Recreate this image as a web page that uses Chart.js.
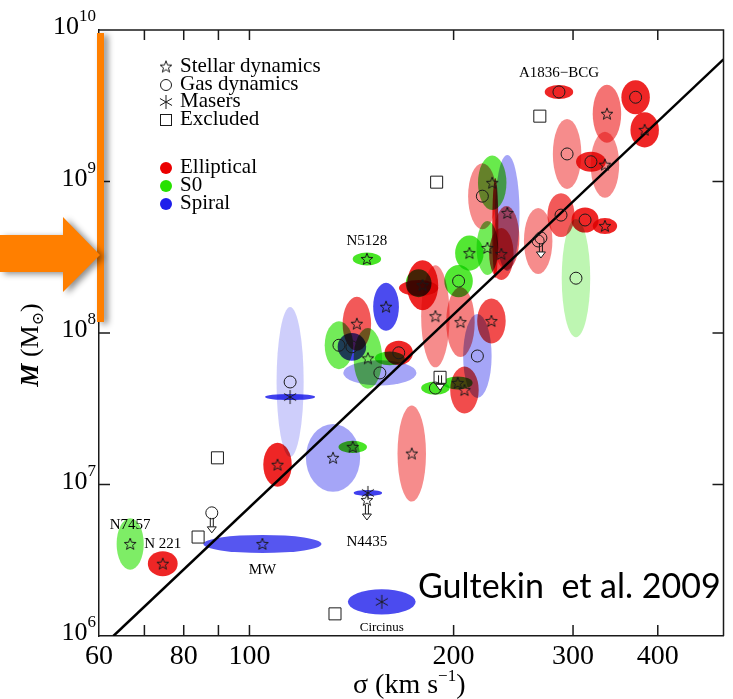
<!DOCTYPE html>
<html>
<head>
<meta charset="utf-8">
<script src="https://cdn.jsdelivr.net/npm/chart.js@4.4.1/dist/chart.umd.min.js"></script>
<style>
  html, body { margin: 0; padding: 0; background: #fff; }
  #wrap { position: relative; width: 733px; height: 699px; }
</style>
</head>
<body>
<div id="wrap"><canvas id="msigma"></canvas></div>
<script>
// Galaxies: velocity dispersion (km/s), black hole mass (Msun),
// half-widths of the error ellipse in dex, host type and measurement method
const galSigma = [
  74.5, 110, 173.5, 144, 166, 180, 177.6, 188, 204.7, 227.4, 207.5, 220.5, 239.3,
  235.2, 230.4, 266.5, 288, 312.5, 334.3, 286, 371, 336.6, 382.6, 294, 318.8, 334.3,
  66.7, 142, 149, 135.5, 149.5, 161, 177.6, 203.4, 202.8, 188, 228, 211, 224.3, 303,
  104.5, 132.8, 149.5, 156.7, 114.8, 114.8, 159, 141.6, 155.7, 216.8, 240
];
const galMass = [
  3.0e6, 1.35e7, 1.6e7, 1.15e8, 7.4e7, 2.07e8, 1.98e8, 1.29e8, 1.18e8, 1.2e8, 4.2e7, 8.0e8, 4.24e8,
  3.32e8, 4.93e8, 4.05e8, 6.0e8, 5.57e8, 5.08e8, 3.9e9, 3.6e9, 2.8e9, 2.19e9, 1.52e9, 1.35e9, 1.29e9,
  4.05e6, 1.77e7, 3.08e8, 8.3e7, 6.8e7, 6.8e7, 2.13e8, 2.2e8, 4.68e7, 4.33e7, 9.8e8, 3.37e8, 3.64e8, 2.3e8,
  4.05e6, 1.5e7, 8.8e6, 1.68e6, 4.75e7, 3.78e7, 1.49e8, 8.1e7, 5.45e7, 7.05e7, 6.2e8
];
const galSigmaErr = [
  0.022, 0.021, 0.021, 0.021, 0.021, 0.023, 0.029, 0.021, 0.021, 0.021, 0.021, 0.021, 0.019,
  0.018, 0.0045, 0.021, 0.02, 0.02, 0.018, 0.021, 0.021, 0.021, 0.021, 0.021, 0.022, 0.021,
  0.02, 0.021, 0.021, 0.021, 0.021, 0.022, 0.019, 0.021, 0.022, 0.021, 0.021, 0.021, 0.016, 0.021,
  0.087, 0.04, 0.021, 0.05, 0.02, 0.037, 0.019, 0.021, 0.054, 0.021, 0.018
];
const galMassErr = [
  0.083, 0.145, 0.317, 0.178, 0.08, 0.165, 0.053, 0.337, 0.231, 0.149, 0.155, 0.218, 0.211,
  0.172, 0.33, 0.218, 0.145, 0.083, 0.053, 0.046, 0.112, 0.191, 0.116, 0.231, 0.066, 0.218,
  0.17, 0.04, 0.043, 0.158, 0.2, 0.046, 0.092, 0.106, 0.043, 0.043, 0.18, 0.116, 0.178, 0.39,
  0.06, 0.224, 0.02, 0.083, 0.495, 0.02, 0.158, 0.092, 0.083, 0.277, 0.383
];
const galType = [
  'E','E','E','E','E','E','E','E','E','E','E','E','E',
  'E','E','E','E','E','E','E','E','E','E','E','E','E',
  'S0','S0','S0','S0','S0','S0','S0','S0','S0','S0','S0','S0','S0','S0',
  'S','S','S','S','S','S','S','S','S','S','S'
];
const galMethod = [
  'star','star','star','star','gas','star','none','star','star','star','star','gas','none',
  'star','none','gas','gas','gas','star','gas','gas','star','star','gas','gas','star',
  'star','star','star','gas','star','none','none','gas','star','gas','star','star','star','gas',
  'star','star','maser','maser','gas','maser','star','gas','gas','gas','star'
];

// excluded objects and upper limits
const exclSigma = [84, 89.7, 133.7, 188.8, 268];
const exclMass = [4.5e6, 1.5e7, 1.4e6, 9.9e8, 2.7e9];
const limSigma = [88, 149, 191, 269];
const limMass = [6.5e6, 7.9e6, 5.1e7, 4.24e8];
const limMethod = ['gas', 'star', 'excl', 'gas'];

// best fit relation, end points
const fitSigma = [63, 500];
const fitMass = [1.0e6, 6.4e9];

// named galaxies
const nameText = ['N7457', 'N 221', 'MW', 'N4435', 'Circinus', 'N5128', 'A1836\u2212BCG'];
const nameSigma = [66.7, 74.5, 104.5, 149, 156.7, 149, 286];
const nameMass = [4.05e6, 3.0e6, 4.05e6, 7.9e6, 1.68e6, 3.08e8, 3.9e9];

// axes
const sigmaTicks = [60, 70, 80, 90, 100, 200, 300, 400];
const sigmaLabels = [60, 80, 100, 200, 300, 400];
const massTicks = [1e6, 1e7, 1e8, 1e9, 1e10];

// styling
const typeRGB = { E: '235,0,0', S0: '40,225,0', S: '30,30,235' };
const ellipseShade = [
  0.85, 0.85, 0.45, 0.65, 0.85, 0.85, 0.85, 0.45, 0.5, 0.7, 0.7, 0.45, 0.6,
  0.7, 0.85, 0.45, 0.65, 0.85, 0.85, 0.85, 0.85, 0.55, 0.85, 0.45, 0.85, 0.45,
  0.6, 0.85, 0.85, 0.65, 0.65, 0.85, 0.85, 0.8, 0.85, 0.85, 0.7, 0.8, 0.65, 0.3,
  0.75, 0.4, 0.85, 0.8, 0.22, 0.85, 0.8, 0.85, 0.4, 0.4, 0.4
];
const nameShift = [-19, -20, 26, 42, 26, -18, -19];
const SERIF = '"Liberation Serif", "DejaVu Serif", serif';
const INK = '#1a1a1a';

function markerCanvas(draw) {
  const c = document.createElement('canvas');
  c.width = 16; c.height = 16;
  const g = c.getContext('2d');
  g.strokeStyle = INK; g.lineWidth = 1;
  draw(g);
  return c;
}
const starMark = markerCanvas(g => {
  g.beginPath();
  for (let k = 0; k < 10; k++) {
    const r = k % 2 ? 2.6 : 6.2;
    const a = -Math.PI / 2 + k * Math.PI / 5;
    g.lineTo(8 + r * Math.cos(a), 8.4 + r * Math.sin(a));
  }
  g.closePath(); g.stroke();
});
const maserMark = markerCanvas(g => {
  g.beginPath();
  for (let k = 0; k < 3; k++) {
    const a = Math.PI / 2 + k * Math.PI / 3;
    g.moveTo(8 - 7 * Math.cos(a), 8 - 7 * Math.sin(a));
    g.lineTo(8 + 7 * Math.cos(a), 8 + 7 * Math.sin(a));
  }
  g.stroke();
});

function pointsFor(method) {
  const pts = [];
  galSigma.forEach((s, i) => { if (galMethod[i] === method) pts.push({ x: s, y: galMass[i] }); });
  limSigma.forEach((s, i) => { if (limMethod[i] === method) pts.push({ x: s, y: limMass[i] }); });
  return pts;
}

// error ellipses, blended multiplicatively so overlaps darken
const ellipsePlugin = {
  id: 'ellipses',
  beforeDatasetsDraw(chart) {
    const { ctx, chartArea: a, scales: { x, y } } = chart;
    ctx.save();
    ctx.beginPath(); ctx.rect(a.left, a.top, a.width, a.height); ctx.clip();
    ctx.globalCompositeOperation = 'multiply';
    galSigma.forEach((s, i) => {
      const m = galMass[i], ds = Math.pow(10, galSigmaErr[i]), dm = Math.pow(10, galMassErr[i]);
      const cx = x.getPixelForValue(s), cy = y.getPixelForValue(m);
      const rx = (x.getPixelForValue(s * ds) - x.getPixelForValue(s / ds)) / 2;
      const ry = (y.getPixelForValue(m / dm) - y.getPixelForValue(m * dm)) / 2;
      ctx.fillStyle = 'rgba(' + typeRGB[galType[i]] + ',' + ellipseShade[i] + ')';
      ctx.beginPath(); ctx.ellipse(cx, cy, rx, ry, 0, 0, Math.PI * 2); ctx.fill();
    });
    ctx.restore();
  }
};

function drawStarAt(ctx, cx, cy) { ctx.drawImage(starMark, cx - 8, cy - 8.4); }

const decorPlugin = {
  id: 'decor',
  afterDatasetsDraw(chart) {
    const { ctx, scales: { x, y } } = chart;
    ctx.save();
    // upper limit arrows
    ctx.strokeStyle = INK; ctx.lineWidth = 1; ctx.fillStyle = '#fff';
    limSigma.forEach((s, i) => {
      const px = x.getPixelForValue(s), py = y.getPixelForValue(limMass[i]);
      const top = limMethod[i] === 'excl' ? py - 2 : py + 5;
      ctx.beginPath();
      ctx.moveTo(px - 1.5, top); ctx.lineTo(px - 1.5, top + 9);
      ctx.moveTo(px + 1.5, top); ctx.lineTo(px + 1.5, top + 9);
      ctx.stroke();
      ctx.beginPath();
      ctx.moveTo(px - 4.5, top + 9); ctx.lineTo(px + 4.5, top + 9); ctx.lineTo(px, top + 15); ctx.closePath();
      ctx.fill(); ctx.stroke();
    });
    // galaxy names
    ctx.fillStyle = '#000'; ctx.textAlign = 'center'; ctx.textBaseline = 'middle';
    nameText.forEach((t, i) => {
      ctx.font = (t === 'Circinus' ? '13px ' : '15px ') + SERIF;
      ctx.fillText(t, x.getPixelForValue(nameSigma[i]), y.getPixelForValue(nameMass[i]) + nameShift[i]);
    });
    ctx.restore();
  },
  afterDraw(chart) {
    const { ctx, chartArea: a, scales: { x, y } } = chart;
    ctx.save();
    // frame: top and right sides, ticks pointing inwards
    ctx.strokeStyle = INK; ctx.lineWidth = 1.5;
    ctx.beginPath();
    ctx.moveTo(a.left, a.top); ctx.lineTo(a.right, a.top); ctx.lineTo(a.right, a.bottom);
    sigmaTicks.slice(1).forEach(v => {
      const px = x.getPixelForValue(v);
      ctx.moveTo(px, a.bottom); ctx.lineTo(px, a.bottom - 11);
      ctx.moveTo(px, a.top); ctx.lineTo(px, a.top + 10);
    });
    massTicks.slice(1, -1).forEach(v => {
      const py = y.getPixelForValue(v);
      ctx.moveTo(a.left, py); ctx.lineTo(a.left + 11, py);
      ctx.moveTo(a.right, py); ctx.lineTo(a.right - 11, py);
    });
    ctx.stroke();

    // mass tick labels as powers of ten
    ctx.fillStyle = '#000'; ctx.textBaseline = 'alphabetic'; ctx.textAlign = 'left';
    massTicks.forEach(v => {
      const py = y.getPixelForValue(v);
      const exp = String(Math.round(Math.log10(v)));
      ctx.font = '17px ' + SERIF;
      const we = ctx.measureText(exp).width;
      ctx.font = '26px ' + SERIF;
      const wb = ctx.measureText('10').width;
      const right = a.left - 3;
      ctx.fillText('10', right - we - wb, py + 4);
      ctx.font = '17px ' + SERIF;
      ctx.fillText(exp, right - we, py - 9);
    });

    // axis titles
    ctx.font = '28px ' + SERIF;
    let cx = 353;
    const by = 693;
    ctx.fillText('\u03c3 (km s', cx, by); cx += ctx.measureText('\u03c3 (km s').width;
    ctx.font = '17px ' + SERIF;
    ctx.fillText('\u22121', cx, by - 12); cx += ctx.measureText('\u22121').width;
    ctx.font = '28px ' + SERIF;
    ctx.fillText(')', cx, by);

    ctx.save();
    ctx.translate(38, 345); ctx.rotate(-Math.PI / 2);
    const parts = [
      ['bold italic 26px ' + SERIF, 'M', 0],
      ['26px ' + SERIF, ' (M', 0],
      ['16px ' + SERIF, '\u2299', 5],
      ['26px ' + SERIF, ')', 0]
    ];
    let total = 0;
    parts.forEach(p => { ctx.font = p[0]; total += ctx.measureText(p[1]).width; });
    let tx = -total / 2;
    parts.forEach(p => { ctx.font = p[0]; ctx.fillText(p[1], tx, p[2]); tx += ctx.measureText(p[1]).width; });
    ctx.restore();

    // key
    const kx = a.left + 67, tx0 = a.left + 81;
    ctx.font = '21px ' + SERIF;
    drawStarAt(ctx, kx, a.top + 37);
    ctx.fillText('Stellar dynamics', tx0, a.top + 42);
    ctx.lineWidth = 1; ctx.strokeStyle = INK;
    ctx.beginPath(); ctx.arc(kx, a.top + 55, 5.5, 0, Math.PI * 2); ctx.stroke();
    ctx.fillText('Gas dynamics', tx0, a.top + 60);
    ctx.drawImage(maserMark, kx - 8, a.top + 64);
    ctx.fillText('Masers', tx0, a.top + 77);
    ctx.strokeRect(kx - 5.5, a.top + 84.5, 11, 11);
    ctx.fillText('Excluded', tx0, a.top + 95);
    [['E', 'Elliptical', 138], ['S0', 'S0', 156], ['S', 'Spiral', 174]].forEach(k => {
      ctx.fillStyle = 'rgb(' + typeRGB[k[0]] + ')';
      ctx.beginPath(); ctx.arc(kx, a.top + k[2], 6, 0, Math.PI * 2); ctx.fill();
      ctx.fillStyle = '#000';
      ctx.fillText(k[1], tx0, a.top + k[2] + 5);
    });

    // reference note
    ctx.font = '34px Lato, "Open Sans", sans-serif';
    ctx.fillText('Gultekin  et al. 2009', 418, 598);

    // orange pointer at the mass axis
    ctx.shadowColor = 'rgba(0,0,0,0.45)'; ctx.shadowBlur = 6; ctx.shadowOffsetX = 4; ctx.shadowOffsetY = 2;
    ctx.fillStyle = '#ff7f00';
    ctx.fillRect(a.left - 2, 33, 7, 289);
    ctx.beginPath();
    ctx.moveTo(0, 235); ctx.lineTo(63, 235); ctx.lineTo(63, 217); ctx.lineTo(100, 255);
    ctx.lineTo(63, 292); ctx.lineTo(63, 272); ctx.lineTo(0, 272); ctx.closePath();
    ctx.fill();
    ctx.restore();
  }
};

new Chart(document.getElementById('msigma'), {
  type: 'scatter',
  data: {
    datasets: [
      { label: 'Stellar dynamics', data: pointsFor('star'), pointStyle: starMark, pointRadius: 8, order: 0 },
      { label: 'Gas dynamics', data: pointsFor('gas'), pointStyle: 'circle', pointRadius: 6,
        backgroundColor: 'rgba(0,0,0,0)', borderColor: INK, borderWidth: 1, order: 0 },
      { label: 'Masers', data: pointsFor('maser'), pointStyle: maserMark, pointRadius: 8, order: 0 },
      { label: 'Excluded', data: exclSigma.map((s, i) => ({ x: s, y: exclMass[i] })).concat(pointsFor('excl')),
        pointStyle: 'rect', pointRadius: 8.5, backgroundColor: '#fff', borderColor: INK, borderWidth: 1, order: 0 },
      { label: 'Fit', type: 'line', data: fitSigma.map((s, i) => ({ x: s, y: fitMass[i] })),
        showLine: true, borderColor: '#000', borderWidth: 2.5, pointRadius: 0, order: 1 }
    ]
  },
  options: {
    responsive: true,
    maintainAspectRatio: false,
    animation: false,
    layout: { padding: { top: 30, right: 8, left: 0, bottom: 0 } },
    plugins: { legend: { display: false }, tooltip: { enabled: false } },
    scales: {
      x: {
        type: 'logarithmic', min: 60, max: 500,
        afterBuildTicks: s => { s.ticks = sigmaTicks.map(v => ({ value: v })); },
        afterFit: s => { s.height = 63; },
        grid: { display: false, drawTicks: false },
        border: { display: true, color: INK, width: 1.5 },
        ticks: {
          autoSkip: false, maxRotation: 0, padding: 4, color: '#000',
          font: { family: SERIF, size: 28 },
          callback: v => sigmaLabels.includes(v) ? String(v) : ''
        }
      },
      y: {
        type: 'logarithmic', min: 1e6, max: 1e10,
        afterBuildTicks: s => { s.ticks = massTicks.map(v => ({ value: v })); },
        afterFit: s => { s.width = 99; },
        grid: { display: false, drawTicks: false },
        border: { display: true, color: INK, width: 1.5 },
        ticks: { display: false }
      }
    }
  },
  plugins: [ellipsePlugin, decorPlugin]
});
</script>
</body>
</html>
